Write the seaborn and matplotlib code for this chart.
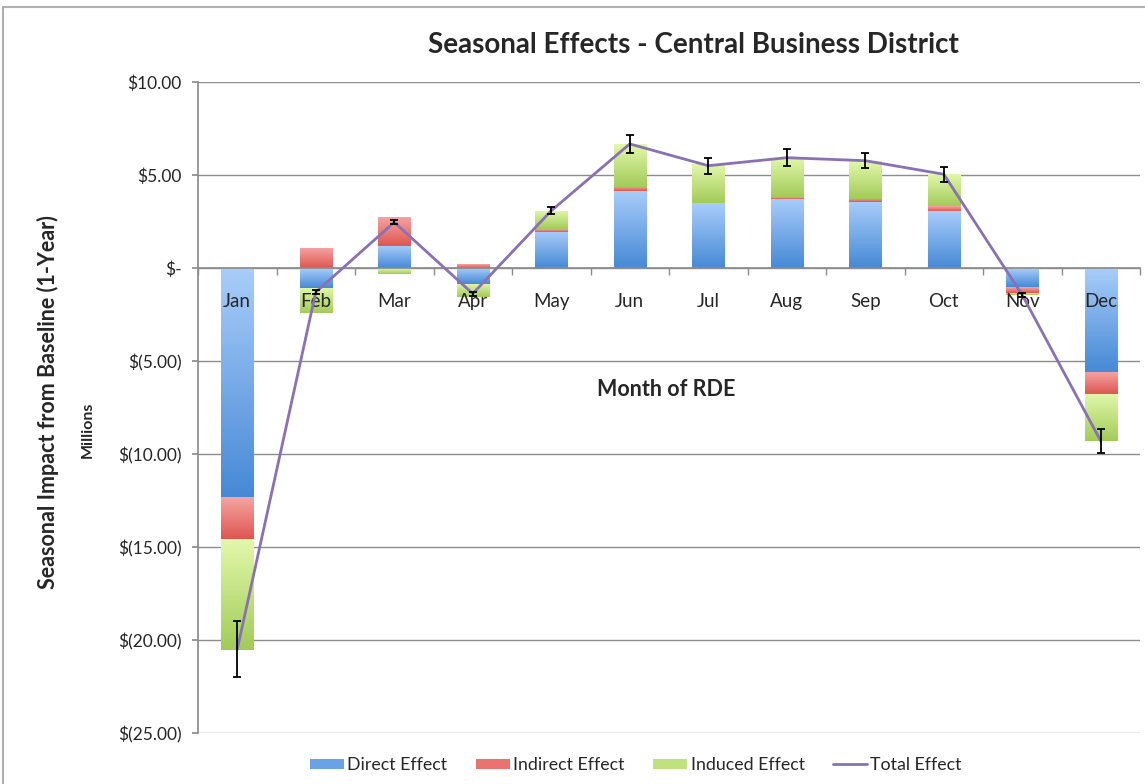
import numpy as np
import pandas as pd
import matplotlib
matplotlib.use("Agg")
import matplotlib.pyplot as plt
import seaborn as sns
from matplotlib.colors import LinearSegmentedColormap
from matplotlib.patches import Rectangle
from matplotlib.ticker import FuncFormatter, FixedLocator

# ---------------- data ----------------
months = ["Jan", "Feb", "Mar", "Apr", "May", "Jun", "Jul", "Aug", "Sep", "Oct", "Nov", "Dec"]
direct = [-12.3, -1.05, 1.2, -0.88, 1.95, 4.14, 3.48, 3.73, 3.55, 3.06, -1.0, -5.57]
indirect = [-2.27, 1.1, 1.56, 0.2, 0.15, 0.23, -0.07, 0.09, 0.18, 0.26, -0.32, -1.2]
induced = [-5.95, -1.35, -0.3, -0.7, 0.98, 2.3, 2.09, 2.11, 2.04, 1.72, -0.13, -2.53]
total = [-20.5, -1.3, 2.46, -1.38, 3.08, 6.67, 5.5, 5.93, 5.77, 5.04, -1.45, -9.3]
total_err = [1.5, 0.1, 0.12, 0.1, 0.18, 0.5, 0.43, 0.45, 0.4, 0.4, 0.1, 0.67]
series_names = ["Direct Effect", "Indirect Effect", "Induced Effect"]
y_ticks = [10, 5, 0, -5, -10, -15, -20, -25]

# ---------------- style ----------------
sns.set_theme(style="white")
plt.rcParams["font.family"] = ["Lato", "DejaVu Sans"]

W, H = 1145, 784
fig = plt.figure(figsize=(W / 100, H / 100), dpi=100)
fig.patch.set_facecolor("white")
ax = fig.add_axes([198 / W, 1 - 733 / H, (1140 - 198) / W, (733 - 82) / H])

grads = [("#a9cdfa", "#4689d6"), ("#f5a6a4", "#de5650"), ("#e2f8ab", "#a2cb58")]
solid = ["#6aa2e6", "#ea7370", "#c0e27e"]

x_pos = np.arange(len(months))
pos_acc = np.zeros(len(months))
neg_acc = np.zeros(len(months))


def gradient_fill(patches, top_c, bot_c):
    cmap = LinearSegmentedColormap.from_list("g", [bot_c, top_c])
    grad = np.linspace(0, 1, 256).reshape(-1, 1)
    for p in patches:
        x0, w, y0, h = p.get_x(), p.get_width(), p.get_y(), p.get_height()
        lo, hi = min(y0, y0 + h), max(y0, y0 + h)
        if hi - lo < 1e-9:
            continue
        im = ax.imshow(grad, cmap=cmap, aspect="auto", origin="lower",
                       extent=[x0, x0 + w, lo, hi], zorder=2,
                       interpolation="bilinear")
        im.set_clip_path(p)
        p.set_facecolor("none")
        p.set_edgecolor("none")


for vals, name, (tc, bc), sc in zip([direct, indirect, induced], series_names, grads, solid):
    v = np.array(vals)
    bottom = np.where(v >= 0, pos_acc, neg_acc)
    n0 = len(ax.patches)
    sns.barplot(x=x_pos, y=v, bottom=bottom, color=sc, width=0.41,
                errorbar=None, ax=ax, linewidth=0, zorder=2)
    gradient_fill(ax.patches[n0:], tc, bc)
    pos_acc = pos_acc + np.where(v >= 0, v, 0)
    neg_acc = neg_acc + np.where(v < 0, v, 0)

line_color = "#8a70b4"
sns.lineplot(x=x_pos, y=total, color=line_color, lw=2, ax=ax, zorder=4)
ax.errorbar(x_pos, total, yerr=total_err, fmt="none", ecolor="black",
            elinewidth=1.3, capsize=3, capthick=1.3, zorder=5)

ax.set_xlim(-0.5, len(months) - 0.5)
ax.set_ylim(-25, 10)

# axes styling
for s in ["top", "right"]:
    ax.spines[s].set_visible(False)
ax.spines["left"].set_color("#8c8c8c")
ax.spines["bottom"].set_color("#8c8c8c")
ax.spines["bottom"].set_position(("data", 0))

ax.set_yticks(y_ticks)


def money(v, _):
    if abs(v) < 1e-9:
        return "$-"
    if v > 0:
        return f"${v:.2f}"
    return f"$({abs(v):.2f})"


ax.yaxis.set_major_formatter(FuncFormatter(money))
ax.tick_params(axis="y", length=4, color="#8c8c8c", pad=8, labelsize=12.5, left=True)
ax.yaxis.grid(True, color="#8c8c8c", lw=1)
ax.xaxis.grid(False)
ax.set_axisbelow(True)

ax.set_xticks(x_pos)
ax.set_xticklabels(months)
ax.xaxis.set_minor_locator(FixedLocator(np.arange(-0.5, len(months), 1.0)))
ax.tick_params(axis="x", which="major", length=0, pad=18, labelsize=13.5)
ax.tick_params(axis="x", which="minor", length=5, color="#8c8c8c", bottom=True)
ax.xaxis.set_zorder(3)
ax.set_xlabel("")
ax.set_ylabel("")

# texts
fig.text(693 / W, 1 - 45 / H, "Seasonal Effects - Central Business District",
         ha="center", va="center", fontsize=20, fontweight="bold")
fig.text(666 / W, 1 - 389 / H, "Month of RDE", ha="center", va="center",
         fontsize=15.5, fontweight="bold")
fig.text(48 / W, 1 - 402 / H, "Seasonal Impact from Baseline (1-Year)", ha="center",
         va="center", rotation=90, fontsize=15.5, fontweight="bold")
fig.text(88 / W, 1 - 430 / H, "Millions", ha="center", va="center",
         rotation=90, fontsize=11.5, fontweight="bold")

# legend
handles = [Rectangle((0, 0), 1, 1, facecolor=c, edgecolor="none") for c in solid]
handles.append(plt.Line2D([0], [0], color=line_color, lw=2))
fig.legend(handles, series_names + ["Total Effect"], loc="center",
           bbox_to_anchor=(636 / W, 1 - 765 / H), ncol=4, frameon=False,
           fontsize=12.8, handlelength=1.9, handleheight=0.5, columnspacing=1.6,
           handletextpad=0.2)

# outer chart frame
fig.patches.append(Rectangle((3 / W, -0.05), 1.2, 1 - 7 / H + 0.05,
                             transform=fig.transFigure, fill=False,
                             edgecolor="#b0b0b0", lw=1.5, zorder=0))

fig.savefig("out.png", dpi=100)
